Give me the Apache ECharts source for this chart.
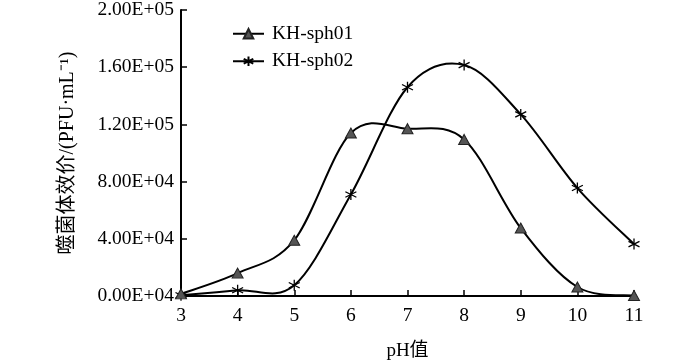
<!DOCTYPE html>
<html><head><meta charset="utf-8">
<script src="https://cdn.jsdelivr.net/npm/echarts@6/dist/echarts.min.js"></script>
<style>html,body{margin:0;padding:0;background:#fff}#c{width:700px;height:360px}</style>
</head><body><div id="c"></div>
<script>
const phValues = [3, 4, 5, 6, 7, 8, 9, 10, 11];
const sph01 = [1500, 16000, 39000, 114000, 117000, 109500, 47500, 6300, 300];
const sph02 = [500, 4000, 7500, 71000, 146000, 161500, 127000, 75500, 36300];
const yTickLabels = ['0.00E+04', '4.00E+04', '8.00E+04', '1.20E+05', '1.60E+05', '2.00E+05'];
const seriesNames = ['KH-sph01', 'KH-sph02'];

const FONT = "'Liberation Serif', 'Noto Sans CJK SC', serif";
const asterisk = 'path://M0,-1L0,1M-0.866,-0.5L0.866,0.5M-0.866,0.5L0.866,-0.5';

function splineSeries(values) {
  return {
    type: 'custom', silent: true, z: 2,
    data: [[phValues[0], values[0]]],
    renderItem: function (params, api) {
      const pts = phValues.map((x, i) => api.coord([x, values[i]]));
      let d = 'M' + pts[0][0] + ',' + pts[0][1];
      const k = 1 / 6;
      for (let i = 0; i < pts.length - 1; i++) {
        const p0 = pts[Math.max(i - 1, 0)], p1 = pts[i], p2 = pts[i + 1], p3 = pts[Math.min(i + 2, pts.length - 1)];
        const c1 = [p1[0] + (p2[0] - p0[0]) * k, p1[1] + (p2[1] - p0[1]) * k];
        const c2 = [p2[0] - (p3[0] - p1[0]) * k, p2[1] - (p3[1] - p1[1]) * k];
        d += 'C' + c1[0] + ',' + c1[1] + ' ' + c2[0] + ',' + c2[1] + ' ' + p2[0] + ',' + p2[1];
      }
      return {type: 'path', shape: {pathData: d}, style: {fill: null, stroke: '#000', lineWidth: 2}};
    }
  };
}

const chart = echarts.init(document.getElementById('c'), null, {renderer: 'canvas'});
chart.setOption({
  animation: false,
  grid: {left: 181, right: 66, top: 10, bottom: 64, outerBoundsMode: 'none', containLabel: false},
  legend: {
    left: 227, top: 19, orient: 'vertical', itemGap: 8,
    itemWidth: 31, itemHeight: 12,
    lineStyle: {color: '#000', width: 2, opacity: 1},
    textStyle: {fontFamily: FONT, fontSize: 19.5, color: '#000', padding: [0, 0, 0, 3]},
    data: seriesNames
  },
  xAxis: {
    type: 'value', min: 3, max: 11, interval: 1,
    name: 'pH值', nameLocation: 'middle', nameGap: 46,
    nameTextStyle: {fontFamily: FONT, fontSize: 19, color: '#000'},
    axisLine: {lineStyle: {color: '#000', width: 2}},
    axisTick: {inside: true, length: 6, lineStyle: {color: '#000', width: 1.5}},
    axisLabel: {fontFamily: FONT, fontSize: 19.5, color: '#000', margin: 10},
    splitLine: {show: false}
  },
  yAxis: {
    type: 'value', min: 0, max: 200000, interval: 40000,
    name: '噬菌体效价/(PFU·mL⁻¹)', nameLocation: 'middle', nameGap: 103,
    nameTextStyle: {fontFamily: FONT, fontSize: 20, color: '#000'},
    axisLine: {show: true, lineStyle: {color: '#000', width: 2}},
    axisTick: {show: true, inside: true, length: 6, lineStyle: {color: '#000', width: 1.5}},
    axisLabel: {fontFamily: FONT, fontSize: 19.5, color: '#000', margin: 7,
      formatter: function (v) { return yTickLabels[Math.round(v / 40000)]; }},
    splitLine: {show: false}
  },
  series: [
    {
      name: seriesNames[0], type: 'line',
      data: phValues.map((x, i) => [x, sph01[i]]),
      symbol: 'triangle', symbolSize: [11, 10],
      lineStyle: {color: '#000', width: 0, opacity: 0},
      itemStyle: {color: '#555', borderColor: '#222', borderWidth: 1},
      z: 4
    },
    {
      name: seriesNames[1], type: 'line',
      data: phValues.map((x, i) => [x, sph02[i]]),
      symbol: asterisk, symbolSize: 11, showAllSymbol: true,
      lineStyle: {color: '#000', width: 0, opacity: 0},
      itemStyle: {color: 'none', borderColor: '#000', borderWidth: 1.3},
      z: 3
    },
    splineSeries(sph01),
    splineSeries(sph02)
  ]
});
</script></body></html>
